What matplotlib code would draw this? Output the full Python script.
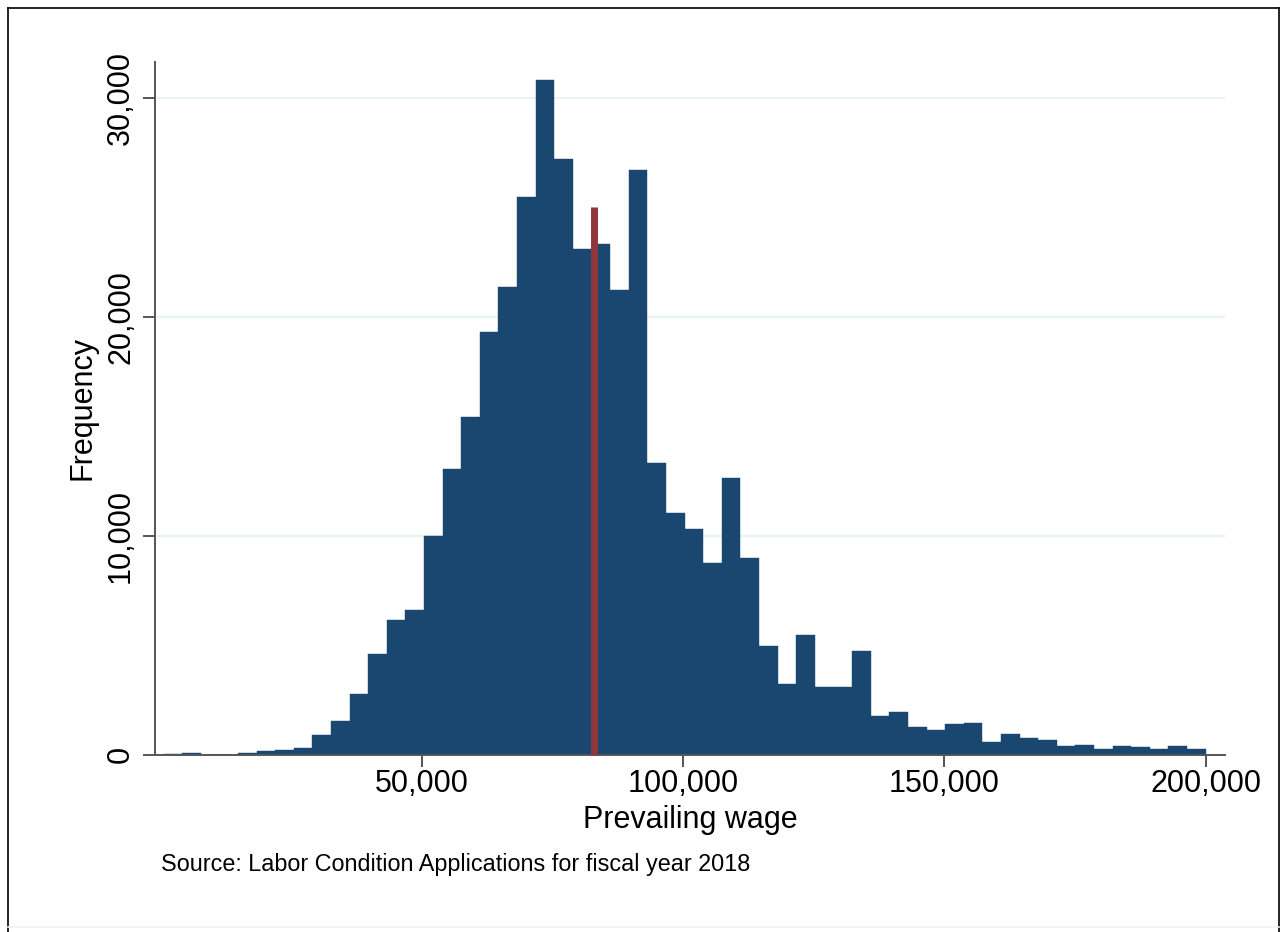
import numpy as np
import matplotlib
matplotlib.use("Agg")
import matplotlib.pyplot as plt
from matplotlib.ticker import StrMethodFormatter
from matplotlib.lines import Line2D

plt.rcParams['font.family'] = ['Liberation Sans', 'DejaVu Sans']

# histogram of prevailing wage, 56 equal bins
wage_min = 600
wage_max = 200000
counts = [10, 80, 0, 0, 80, 170, 230, 300, 880, 1550,
          2790, 4580, 6170, 6620, 10000, 13030, 15430, 19280, 21370, 25460,
          30800, 27190, 23100, 23300, 21230, 26680, 13300, 11020, 10290, 8740,
          12650, 8970, 4960, 3210, 5470, 3080, 3080, 4750, 1770, 1970,
          1270, 1110, 1390, 1460, 590, 960, 760, 680, 380, 460,
          250, 400, 340, 250, 400, 250]
marker_wage = 82900
marker_height = 25000

x_ticks = [50000, 100000, 150000, 200000]
y_ticks = [0, 10000, 20000, 30000]

edges = np.linspace(wage_min, wage_max, len(counts) + 1)
width = edges[1] - edges[0]

fig = plt.figure(figsize=(12.8, 9.32), dpi=100)
ax = fig.add_axes([155 / 1280, 1 - 754.7 / 932, 1070 / 1280, 692.7 / 932])

ax.bar(edges[:-1], counts, width=width, align='edge', color='#1a476f',
       edgecolor='#1a476f', linewidth=0.3, zorder=2)
ax.plot([marker_wage, marker_wage], [0, marker_height], color='#90353b',
        linewidth=5, solid_capstyle='butt', zorder=3)

ax.set_xlim(-1030, 203700)
ax.set_ylim(0, 31630)
ax.set_xticks(x_ticks)
ax.set_yticks(y_ticks)
ax.xaxis.set_major_formatter(StrMethodFormatter('{x:,.0f}'))
ax.yaxis.set_major_formatter(StrMethodFormatter('{x:,.0f}'))

ax.yaxis.grid(True, color='#eaf2f3', linewidth=1.6, zorder=0)
ax.set_axisbelow(True)

for s in ['top', 'right']:
    ax.spines[s].set_visible(False)
for s in ['left', 'bottom']:
    ax.spines[s].set_color('#555555')
    ax.spines[s].set_linewidth(1.4)

ax.tick_params(axis='both', length=8.6, width=1.4, color='#555555',
               labelsize=22, labelcolor='black')
ax.tick_params(axis='x', pad=2)
ax.tick_params(axis='y', pad=5)
plt.setp(ax.get_yticklabels(), rotation=90, va='center')

ax.set_xlabel('Prevailing wage', fontsize=22, labelpad=4)
ax.set_ylabel('Frequency', fontsize=22, labelpad=6)

fig.text(161 / 1280, 1 - 864 / 932,
         'Source: Labor Condition Applications for fiscal year 2018',
         fontsize=16.8, va='center', ha='left')

# outer frame
fig.add_artist(Line2D([8.3 / 1280, 8.3 / 1280], [0, 1 - 8 / 932],
                      transform=fig.transFigure, color='black', linewidth=1.2))
fig.add_artist(Line2D([8.3 / 1280, 1278.5 / 1280], [1 - 8 / 932, 1 - 8 / 932],
                      transform=fig.transFigure, color='black', linewidth=1.2))
fig.add_artist(Line2D([1278.5 / 1280, 1278.5 / 1280], [0, 1 - 8 / 932],
                      transform=fig.transFigure, color='black', linewidth=1.2))
fig.add_artist(Line2D([8.3 / 1280, 1278.5 / 1280], [1 - 927 / 932, 1 - 927 / 932],
                      transform=fig.transFigure, color='#eef2f3', linewidth=1.2))

fig.savefig('out.png', dpi=100)
